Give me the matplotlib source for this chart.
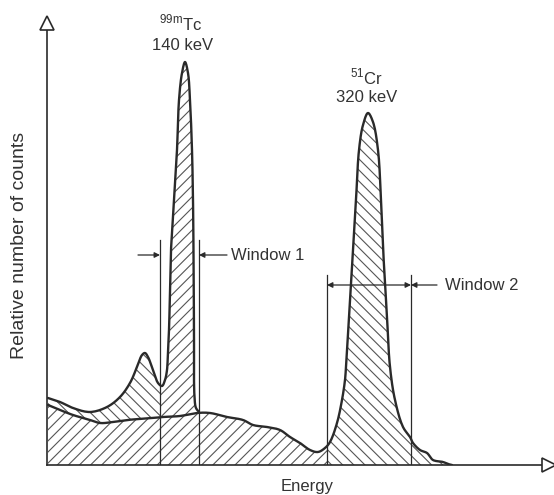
import numpy as np
import matplotlib
matplotlib.use("Agg")
import matplotlib.pyplot as plt
from matplotlib.patches import Rectangle

# ---- data (arbitrary energy channels / relative counts) ----
upper_x = [1, 13, 26, 43, 60, 73, 83, 90, 95, 98, 101, 106, 111, 115, 118, 120, 121, 122,
           124, 125, 127, 130, 132, 135, 138, 141, 143, 145, 146, 146.5, 147, 147.5, 149, 152]
upper_y = [67, 63, 57, 53, 58, 68, 82, 98, 110, 112, 108, 95, 82, 79, 85, 95, 115, 135,
           215, 232, 265, 315, 365, 392, 403, 392, 365, 315, 265, 215, 135, 68, 57, 53]

lower_x = [1, 13, 26, 43, 53, 66, 80, 93, 106, 116, 133, 150, 163, 180, 196, 206, 220, 233,
           243, 253, 263, 271, 278, 283, 290, 295, 298, 299, 302, 306, 309, 312, 316, 321,
           326, 331, 334, 336, 340, 343, 348, 356, 363, 366, 373, 380, 386, 396, 401, 405]
lower_y = [60, 55, 50, 45, 42, 43, 45, 46, 47, 48, 49, 52, 52, 48, 45, 40, 38, 35,
           28, 22, 15, 13, 17, 23, 42, 65, 85, 98, 148, 215, 265, 315, 340, 352,
           343, 315, 265, 218, 148, 98, 65, 38, 28, 22, 15, 12, 5, 3, 1, 0]

window1 = [113, 152]
window2 = [280, 364]
window1_top = 225
window2_top = 190
window1_arrow_y = 210
window2_arrow_y = 180

labels = {
    "tc_iso": r"$^{\mathrm{99m}}$Tc", "tc_e": "140 keV",
    "cr_iso": r"$^{\mathrm{51}}$Cr", "cr_e": "320 keV",
    "w1": "Window 1", "w2": "Window 2",
    "xlabel": "Energy", "ylabel": "Relative number of counts",
}

plt.rcParams['font.family'] = ['Liberation Sans', 'DejaVu Sans']
plt.rcParams['mathtext.fontset'] = 'custom'
plt.rcParams['mathtext.rm'] = 'Liberation Sans'
plt.rcParams['hatch.linewidth'] = 0.8

INK = '#2a2a2a'
TXT = '#333333'
HATCH = '#555555'


def catmull(xs, ys, n=10, alpha=0.5):
    P = np.column_stack([xs, ys]).astype(float)
    P = np.vstack([2 * P[0] - P[1], P, 2 * P[-1] - P[-2]])
    out = []
    for i in range(1, len(P) - 2):
        p0, p1, p2, p3 = P[i - 1], P[i], P[i + 1], P[i + 2]

        def tj(ti, a, b):
            return ti + max(np.linalg.norm(b - a), 1e-6) ** alpha
        t0 = 0.0
        t1 = tj(t0, p0, p1)
        t2 = tj(t1, p1, p2)
        t3 = tj(t2, p2, p3)
        t = np.linspace(t1, t2, n, endpoint=False)[:, None]
        A1 = (t1 - t) / (t1 - t0) * p0 + (t - t0) / (t1 - t0) * p1
        A2 = (t2 - t) / (t2 - t1) * p1 + (t - t1) / (t2 - t1) * p2
        A3 = (t3 - t) / (t3 - t2) * p2 + (t - t2) / (t3 - t2) * p3
        B1 = (t2 - t) / (t2 - t0) * A1 + (t - t0) / (t2 - t0) * A2
        B2 = (t3 - t) / (t3 - t1) * A2 + (t - t1) / (t3 - t1) * A3
        C = (t2 - t) / (t2 - t1) * B1 + (t - t1) / (t2 - t1) * B2
        out.append(C)
    out.append(P[-2][None])
    return np.vstack(out)


fig = plt.figure(figsize=(5.54, 4.95), dpi=100)
ax = fig.add_axes([47 / 554, 30 / 495, 507 / 554, 447 / 495])
ax.set_xlim(0, 507)
ax.set_ylim(0, 447)
ax.set_xticks([])
ax.set_yticks([])
for s in ['top', 'right']:
    ax.spines[s].set_visible(False)
for s in ['left', 'bottom']:
    ax.spines[s].set_linewidth(1.2)
    ax.spines[s].set_color(INK)

up = catmull(upper_x, upper_y)
lo = catmull(lower_x, lower_y)


def clipped_fill(px, py, hatch, x0, x1):
    patch = ax.fill(px, py, facecolor='none', edgecolor=HATCH, linewidth=0,
                    hatch=hatch, zorder=1)[0]
    rect = Rectangle((x0, -10), x1 - x0, 500, transform=ax.transData)
    patch.set_clip_path(rect)
    return patch


# region under the lower curve
lx = np.concatenate([[lo[0, 0]], lo[:, 0], [lo[-1, 0]]])
ly = np.concatenate([[0], lo[:, 1], [0]])
clipped_fill(lx, ly, '///', 0, window2[0])
clipped_fill(lx, ly, '\\\\\\', window2[0], 520)

# region between upper (Tc) and lower curve
lo_part = lo[lo[:, 0] <= up[-1, 0]]
bx = np.concatenate([up[:, 0], lo_part[::-1, 0]])
by = np.concatenate([up[:, 1], lo_part[::-1, 1]])
clipped_fill(bx, by, '\\\\\\', 0, window1[0])
clipped_fill(bx, by, '///', window1[0], 200)

# curves
ax.plot(up[:, 0], up[:, 1], color=INK, lw=1.7, zorder=3, solid_capstyle='round')
ax.plot(lo[:, 0], lo[:, 1], color=INK, lw=1.7, zorder=3, solid_capstyle='round')

# window lines
for xw in window1:
    ax.plot([xw, xw], [0, window1_top], color=INK, lw=0.9, zorder=2)
for xw in window2:
    ax.plot([xw, xw], [0, window2_top], color=INK, lw=0.9, zorder=2)

ap = dict(arrowstyle='-|>', color=INK, lw=0.9, mutation_scale=8, shrinkA=0, shrinkB=0)
ax.annotate('', xy=(window1[0], window1_arrow_y), xytext=(window1[0] - 22, window1_arrow_y),
            arrowprops=ap)
ax.annotate('', xy=(window1[1], window1_arrow_y), xytext=(window1[1] + 28, window1_arrow_y),
            arrowprops=ap)
ax.annotate('', xy=(window2[0], window2_arrow_y), xytext=(window2[1], window2_arrow_y),
            arrowprops=dict(ap, arrowstyle='<|-|>'))
ax.annotate('', xy=(window2[1], window2_arrow_y), xytext=(window2[1] + 26, window2_arrow_y),
            arrowprops=ap)

ax.text(window1[1] + 32, window1_arrow_y, labels['w1'], fontsize=12, color=TXT,
        ha='left', va='center')
ax.text(window2[1] + 34, window2_arrow_y, labels['w2'], fontsize=12, color=TXT,
        ha='left', va='center')

# peak labels
ax.text(134, 442, labels['tc_iso'], fontsize=12, color=TXT, ha='center', va='center',
        clip_on=False)
ax.text(136, 420, labels['tc_e'], fontsize=12, color=TXT, ha='center', va='center')
ax.text(319, 388, labels['cr_iso'], fontsize=12, color=TXT, ha='center', va='center')
ax.text(320, 368, labels['cr_e'], fontsize=12, color=TXT, ha='center', va='center')

# axis arrowheads (open triangles)
ax.plot([0], [442], marker='^', markersize=10, mfc='white', mec=INK, mew=1.2,
        clip_on=False, zorder=5)
ax.plot([502], [0], marker='>', markersize=10, mfc='white', mec=INK, mew=1.2,
        clip_on=False, zorder=5)

fig.text(307 / 554, 1 - 487 / 495, labels['xlabel'], fontsize=12, color=TXT,
         ha='center', va='center')
fig.text(20 / 554, 1 - 245 / 495, labels['ylabel'], fontsize=14, color=TXT,
         ha='center', va='center', rotation=90)

fig.savefig('out.png', dpi=100, facecolor='white')
